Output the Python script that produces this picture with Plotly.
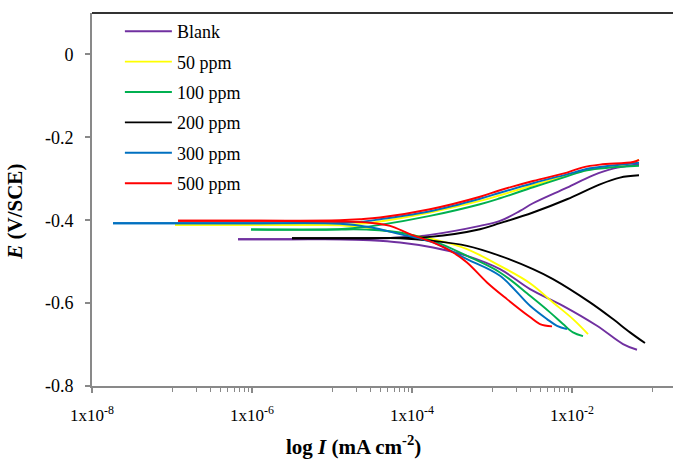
import plotly.graph_objects as go

# ---- data: log10(I / mA cm^-2) and E (V/SCE) ----
names = ["Blank", "50 ppm", "100 ppm", "200 ppm", "300 ppm", "500 ppm"]
colors = ["#7030A0", "#FFFF00", "#00B050", "#000000", "#0070C0", "#FF0000"]

# Blank (cathodic branch: high current -> Ecorr ; anodic branch: Ecorr -> high current)
blank_cat_logI = [-1.1875, -1.3625, -1.6875, -2.1125, -2.525, -2.9, -3.3125, -3.7375, -4.15, -4.525, -4.9, -5.5, -6.175]
blank_cat_E    = [-0.7125, -0.6988, -0.6547, -0.6065, -0.5663, -0.5181, -0.486, -0.4658, -0.4537, -0.4482, -0.4458, -0.4458, -0.4458]
blank_an_logI  = [-6.175, -5.5, -4.9, -4.525, -4.15, -3.775, -3.15, -2.9, -2.65, -2.4875, -2.0625, -1.7375, -1.4875, -1.1625]
blank_an_E     = [-0.4458, -0.4458, -0.4458, -0.4446, -0.4417, -0.4354, -0.4137, -0.4017, -0.3776, -0.359, -0.3212, -0.2916, -0.2754, -0.2651]

# 50 ppm
p50_cat_logI = [-1.8, -1.9875, -2.2375, -2.525, -2.9, -3.3125, -3.7375, -4.15, -4.525, -4.9, -5.9, -6.9625]
p50_cat_E    = [-0.6747, -0.6386, -0.5983, -0.552, -0.5101, -0.4699, -0.4458, -0.4313, -0.4193, -0.412, -0.4113, -0.4113]
p50_an_logI  = [-6.9625, -5.9, -4.9, -4.65, -4.4, -3.775, -3.15, -2.9, -2.4875, -2.0625, -1.775, -1.525, -1.275, -1.1625]
p50_an_E     = [-0.4113, -0.4113, -0.4113, -0.4089, -0.4031, -0.3814, -0.3535, -0.3398, -0.3157, -0.2916, -0.2771, -0.2699, -0.2627, -0.2542]

# 100 ppm
p100_cat_logI = [-1.8625, -1.9875, -2.1125, -2.275, -2.525, -2.9, -3.3125, -3.7375, -4.15, -4.525, -5.0, -6.0125]
p100_cat_E    = [-0.6795, -0.6706, -0.6506, -0.6224, -0.5824, -0.526, -0.486, -0.4499, -0.4296, -0.4229, -0.4224, -0.4224]
p100_an_logI  = [-6.0125, -5.0, -4.65, -4.4, -3.775, -3.15, -2.9, -2.4875, -2.0625, -1.8125, -1.525, -1.1625]
p100_an_E     = [-0.4224, -0.4224, -0.4175, -0.4113, -0.3896, -0.3614, -0.347, -0.3205, -0.294, -0.2795, -0.273, -0.2687]

# 200 ppm
p200_cat_logI = [-1.0875, -1.275, -1.4875, -1.775, -2.2375, -2.4875, -2.9, -3.3125, -3.7375, -4.15, -4.525, -5.0, -5.5]
p200_cat_E    = [-0.6964, -0.6706, -0.6386, -0.5983, -0.5422, -0.5181, -0.486, -0.4619, -0.4499, -0.4434, -0.4434, -0.4434, -0.4434]
p200_an_logI  = [-5.5, -5.0, -4.525, -4.15, -3.775, -3.15, -2.9, -2.4875, -2.0625, -1.65, -1.4, -1.1625]
p200_an_E     = [-0.4434, -0.4434, -0.4434, -0.4422, -0.4402, -0.4217, -0.4072, -0.3814, -0.3494, -0.3133, -0.2971, -0.2916]

# 300 ppm
p300_cat_logI = [-2.0625, -2.1875, -2.3125, -2.525, -2.9, -3.3125, -3.7375, -4.15, -4.525, -4.9, -6.0, -7.7375]
p300_cat_E    = [-0.6627, -0.6547, -0.6386, -0.6065, -0.5342, -0.494, -0.4537, -0.4337, -0.4169, -0.4084, -0.4073, -0.4073]
p300_an_logI  = [-7.7375, -6.0, -4.9, -4.65, -4.4, -3.775, -3.15, -2.9, -2.4875, -2.0625, -1.775, -1.525, -1.1625]
p300_an_E     = [-0.4073, -0.4073, -0.4065, -0.404, -0.3976, -0.3783, -0.3482, -0.3337, -0.3108, -0.2892, -0.2747, -0.2687, -0.2614]

# 500 ppm
p500_cat_logI = [-2.25, -2.4, -2.525, -2.8125, -3.0625, -3.3125, -3.4875, -3.7375, -4.025, -4.275, -4.525, -4.9, -5.9, -6.925]
p500_cat_E    = [-0.6561, -0.6506, -0.6337, -0.5904, -0.5501, -0.5019, -0.4778, -0.4537, -0.4337, -0.4137, -0.406, -0.4031, -0.4012, -0.4012]
p500_an_logI  = [-6.925, -5.9, -4.9, -4.65, -4.4, -3.775, -3.15, -2.9, -2.4875, -2.0625, -1.8625, -1.65, -1.2375, -1.1625]
p500_an_E     = [-0.4012, -0.4012, -0.4, -0.3976, -0.3935, -0.3735, -0.3434, -0.3277, -0.3053, -0.2851, -0.2723, -0.2658, -0.2595, -0.2542]

series = [
    (blank_cat_logI, blank_cat_E, blank_an_logI, blank_an_E),
    (p50_cat_logI, p50_cat_E, p50_an_logI, p50_an_E),
    (p100_cat_logI, p100_cat_E, p100_an_logI, p100_an_E),
    (p200_cat_logI, p200_cat_E, p200_an_logI, p200_an_E),
    (p300_cat_logI, p300_cat_E, p300_an_logI, p300_an_E),
    (p500_cat_logI, p500_cat_E, p500_an_logI, p500_an_E),
]

x_major_vals = [1e-8, 1e-6, 1e-4, 1e-2, 1e0]
x_major_text = ["1x10<sup>-8</sup>", "1x10<sup>-6</sup>", "1x10<sup>-4</sup>", "1x10<sup>-2</sup>", ""]
x_minor_vals = [k * b for b in (1e-7, 1e-5, 1e-3, 1e-1) for k in range(1, 10)]
y_tick_vals = [0, -0.2, -0.4, -0.6, -0.8]
y_tick_text = ["0", "-0.2", "-0.4", "-0.6", "-0.8"]

FONT = "Liberation Serif"

fig = go.Figure()
for name, color, (cl, ce, al, ae) in zip(names, colors, series):
    fig.add_trace(go.Scatter(
        x=[10 ** v for v in cl], y=ce, mode="lines", name=name,
        legendgroup=name, showlegend=True,
        line=dict(color=color, width=1.9, shape="spline", smoothing=1.0)))
    fig.add_trace(go.Scatter(
        x=[10 ** v for v in al], y=ae, mode="lines", name=name,
        legendgroup=name, showlegend=False,
        line=dict(color=color, width=1.9, shape="spline", smoothing=1.0)))

fig.update_layout(
    width=673, height=459,
    margin=dict(l=92, r=0, t=13, b=72.5),
    paper_bgcolor="white", plot_bgcolor="white",
    font=dict(family=FONT, size=17, color="black"),
    showlegend=True,
    legend=dict(x=0.048, y=1.0, xanchor="left", yanchor="top",
                bgcolor="rgba(0,0,0,0)", font=dict(family=FONT, size=18),
                tracegroupgap=4, itemwidth=47),
    xaxis=dict(type="log", range=[-8, -8 + 581 / 80],
               tickmode="array", tickvals=x_major_vals, ticktext=x_major_text,
               ticks="outside", ticklen=5, tickwidth=1.5, tickcolor="#898989",
               showline=True, linecolor="#898989", linewidth=2,
               showgrid=False, zeroline=False,
               tickfont=dict(family=FONT, size=17, color="black"),
               ticklabelstandoff=8,
               minor=dict(tickmode="array", tickvals=x_minor_vals, ticks="outside",
                          ticklen=4, tickwidth=1, tickcolor="#898989", showgrid=False)),
    yaxis=dict(range=[-0.8, 0.1],
               tickmode="array", tickvals=y_tick_vals, ticktext=y_tick_text,
               ticks="outside", ticklen=5, tickwidth=1.5, tickcolor="#898989",
               showline=True, linecolor="#898989", linewidth=2,
               showgrid=False, zeroline=False,
               tickfont=dict(family=FONT, size=18, color="black"),
               ticklabelstandoff=8),
    shapes=[dict(type="line", xref="paper", yref="paper", x0=0, x1=1, y0=1, y1=1,
                 line=dict(color="#333333", width=2))],
    annotations=[
        dict(text="<b>log <i>I</i> (mA cm<sup>-2</sup>)</b>", xref="paper", yref="paper",
             x=(353 - 92) / 581, y=-(446 - 386.5) / 373.5, xanchor="center", yanchor="middle",
             showarrow=False, font=dict(family=FONT, size=21, color="black")),
        dict(text="<b><i>E</i> (V/SCE)</b>", xref="paper", yref="paper",
             x=(15 - 92) / 581, y=(386.5 - 212) / 373.5, xanchor="center", yanchor="middle",
             textangle=-90, showarrow=False, font=dict(family=FONT, size=21, color="black")),
    ],
)

fig.write_html("out.html")
